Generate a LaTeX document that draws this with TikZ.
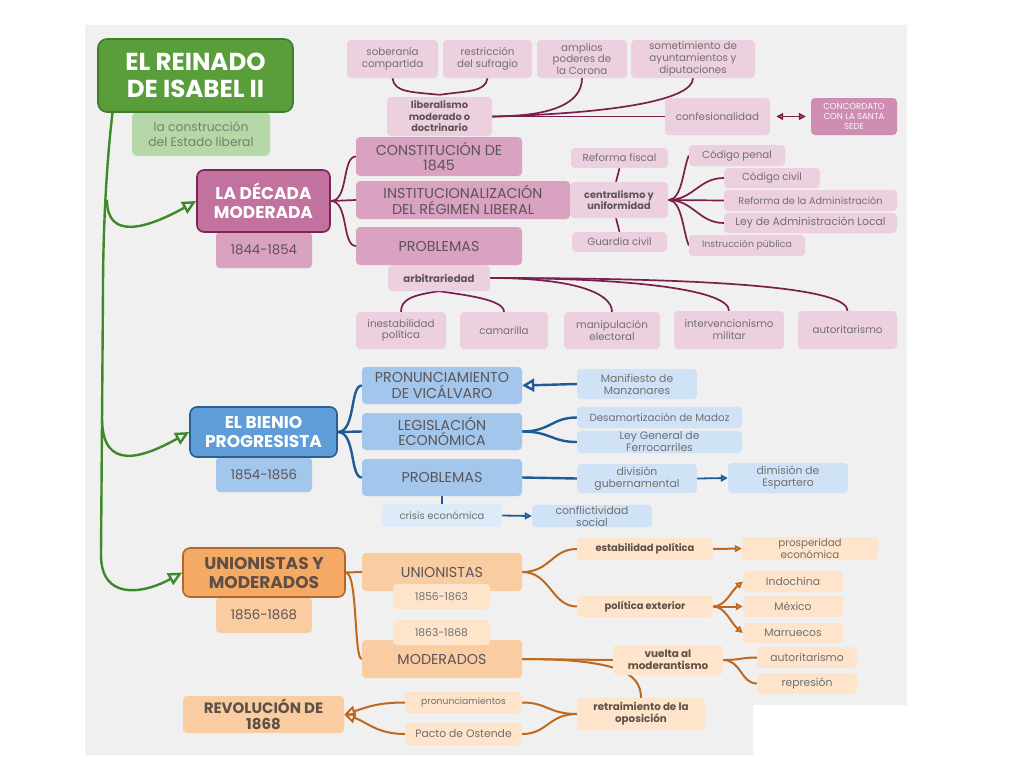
\documentclass[tikz,border=0pt]{standalone}
\usepackage{fontspec}
\setmainfont{Poppins}
\usetikzlibrary{arrows.meta}
\pgfdeclarelayer{back}\pgfdeclarelayer{lines}\pgfsetlayers{back,lines,main}
\definecolor{bg}{HTML}{F0F0F0}
\definecolor{gD}{HTML}{5A9E3C}\definecolor{gB}{HTML}{3F7D2A}\definecolor{gL}{HTML}{B6D7A8}\definecolor{gLine}{HTML}{3E8A2A}\definecolor{gT}{HTML}{6E846A}
\definecolor{pD}{HTML}{C2729E}\definecolor{pB}{HTML}{7B2652}\definecolor{pM}{HTML}{D9A2C0}\definecolor{pL}{HTML}{EDD0DF}\definecolor{pLine}{HTML}{7A1E4B}\definecolor{pC}{HTML}{D08DB3}
\definecolor{bD}{HTML}{5E9DD8}\definecolor{bB}{HTML}{2C5E92}\definecolor{bM}{HTML}{A3C7EC}\definecolor{bL}{HTML}{CFE2F6}\definecolor{bLL}{HTML}{DDEAF7}\definecolor{bLine}{HTML}{1F5A97}
\definecolor{oD}{HTML}{F4A964}\definecolor{oB}{HTML}{B0672A}\definecolor{oM}{HTML}{F9CCA2}\definecolor{oL}{HTML}{FDE4CB}\definecolor{oLine}{HTML}{C0691C}
\definecolor{tx}{HTML}{707070}\definecolor{txD}{HTML}{5C5458}\definecolor{txO}{HTML}{5E5046}
\newcommand\bx[7]{%
 \pgfmathsetmacro\bxw{#5-#3}\pgfmathsetmacro\bxh{#6-#4}%
 \pgfmathsetmacro\bxx{(#3+#5)/2}\pgfmathsetmacro\bxy{(#4+#6)/2}%
 \node[box,#1,minimum width=\bxw pt,minimum height=\bxh pt] (#2) at (\bxx,\bxy) {#7};}
\tikzset{
 box/.style={rounded corners=4pt, inner sep=1pt, align=center, text=tx, font=\fontsize{10.3}{11.8}\selectfont},
 bigf/.style={font=\bfseries\fontsize{17}{19}\selectfont},
 yr/.style={font=\fontsize{13.3}{15}\selectfont},
 gmain/.style={fill=gD, draw=gB, line width=1.6pt, text=white, rounded corners=9pt, font=\bfseries\fontsize{24.5}{27}\selectfont},
 gsub/.style={fill=gL, text=gT, rounded corners=5pt, font=\fontsize{12.3}{14.5}\selectfont},
 pmain/.style={fill=pD, draw=pB, line width=1.6pt, text=white, rounded corners=7pt, bigf},
 pmd/.style={fill=pM, text=txD, font=\fontsize{14.3}{15.5}\selectfont},
 pk/.style={fill=pL},
 pkb/.style={fill=pL, text=txD, font=\bfseries\fontsize{9.8}{11.5}\selectfont},
 pconc/.style={fill=pC, text=white!92!pM, font=\fontsize{8.6}{10}\selectfont},
 bmain/.style={fill=bD, draw=bB, line width=1.6pt, text=white, rounded corners=7pt, bigf},
 bmd/.style={fill=bM, text=txD, font=\fontsize{14.3}{15.5}\selectfont},
 blt/.style={fill=bL},
 bll/.style={fill=bLL},
 omain/.style={fill=oD, draw=oB, line width=1.6pt, text=txO, rounded corners=7pt, bigf},
 omd/.style={fill=oM, text=txD, font=\fontsize{14.3}{15.5}\selectfont},
 orev/.style={fill=oM, text=txO, font=\bfseries\fontsize{15}{15.5}\selectfont},
 olt/.style={fill=oL},
 olb/.style={fill=oL, text=txO, font=\bfseries\fontsize{9.9}{11.5}\selectfont},
 pl/.style={draw=pLine, line width=1.7pt},
 bln/.style={draw=bLine, line width=2.4pt},
 oln/.style={draw=oLine, line width=2pt},
 gln/.style={draw=gLine, line width=2.4pt},
 gar/.style={-{Triangle[open,length=14pt,width=13pt,line width=2.4pt]}},
 sar/.style={-{Triangle[open,length=7pt,width=7pt]}},
}
\begin{document}
\begin{tikzpicture}[x=1pt,y=-1pt]
\useasboundingbox (0,0) rectangle (1024,768);
\begin{pgfonlayer}{back}
\fill[white] (0,0) rectangle (1024,768);
\fill[bg] (85,25) -- (907,25) -- (907,705) -- (753,705) -- (753,755) -- (85,755) -- cycle;
\end{pgfonlayer}
% green
\bx{gsub}{sub}{132}{112}{270}{156}{la construcción\\del Estado liberal}
\bx{gmain}{title}{98}{39}{293}{112}{EL REINADO\\DE ISABEL II}
% purple
\bx{pmd,yr}{d1}{216}{232}{312}{268}{1844-1854}
\bx{pmain}{decada}{197}{170}{330}{232}{LA DÉCADA\\MODERADA}
\bx{pk}{sob}{347}{40}{438}{78}{soberanía\\compartida}
\bx{pk}{res}{443}{40}{532}{78}{restricción\\del sufragio}
\bx{pk}{amp}{537}{40}{627}{78}{amplios\\poderes de\\la Corona}
\bx{pk}{som}{631}{40}{755}{78}{sometimiento de\\ayuntamientos y\\diputaciones}
\bx{pkb}{lib}{387}{97}{492}{136}{liberalismo\\moderado o\\doctrinario}
\bx{pk}{conf}{665}{98}{770}{135}{confesionalidad}
\bx{pconc}{conc}{811}{98}{897}{135}{CONCORDATO\\CON LA SANTA\\SEDE}
\bx{pmd}{const}{356}{137}{522}{176}{CONSTITUCIÓN DE\\1845}
\bx{pmd}{inst}{356}{181}{570}{219}{INSTITUCIONALIZACIÓN\\DEL RÉGIMEN LIBERAL}
\bx{pmd}{prob}{356}{227}{522}{265}{PROBLEMAS}
\bx{pkb,font=\bfseries\fontsize{10.2}{11.5}\selectfont}{arb}{388}{265}{490}{291}{arbitrariedad}
\bx{pk}{rf}{571}{148}{668}{168}{Reforma fiscal}
\bx{pkb}{cen}{570}{182}{668}{218}{centralismo y\\uniformidad}
\bx{pk}{gc}{572}{232}{667}{252}{Guardia civil}
\bx{pk}{cp}{689}{145}{785}{166}{Código penal}
\bx{pk}{cc}{724}{168}{820}{188}{Código civil}
\bx{pk,font=\fontsize{9.7}{11}\selectfont}{ra}{724}{190}{897}{211}{Reforma de la Administración}
\bx{pk,font=\fontsize{10.8}{12}\selectfont}{la}{724}{213}{897}{233}{Ley de Administración Local}
\bx{pk,font=\fontsize{9.4}{11}\selectfont}{ip}{689}{235}{805}{256}{Instrucción pública}
\bx{pk}{ine}{356}{312}{446}{349}{inestabilidad\\política}
\bx{pk}{cam}{460}{312}{548}{349}{camarilla}
\bx{pk}{man}{564}{312}{660}{349}{manipulación\\electoral}
\bx{pk}{int}{674}{311}{784}{349}{intervencionismo\\militar}
\bx{pk}{aut}{798}{311}{897}{349}{autoritarismo}
% blue
\bx{bmd,yr}{b1}{216}{457}{312}{492}{1854-1856}
\bx{bmain}{bienio}{190}{407}{337}{457}{EL BIENIO\\PROGRESISTA}
\bx{bmd}{pron}{362}{367}{522}{404}{PRONUNCIAMIENTO\\DE VICÁLVARO}
\bx{bmd}{leg}{362}{413}{522}{450}{LEGISLACIÓN\\ECONÓMICA}
\bx{bmd}{bprob}{362}{459}{522}{496}{PROBLEMAS}
\bx{bll,font=\fontsize{10}{11}\selectfont}{cri}{382}{504}{502}{527}{crisis económica}
\bx{blt,font=\fontsize{10.8}{12}\selectfont}{mmz}{577}{369}{697}{399}{Manifiesto de\\Manzanares}
\bx{blt}{des}{577}{407}{742}{428}{Desamortización de Madoz}
\bx{blt,font=\fontsize{10.8}{12}\selectfont}{lgf}{577}{431}{742}{453}{Ley General de\\Ferrocarriles}
\bx{blt,font=\fontsize{10.8}{12}\selectfont}{div}{577}{464}{697}{493}{división\\gubernamental}
\bx{blt,font=\fontsize{10.8}{12}\selectfont}{dim}{728}{463}{848}{493}{dimisión de\\Espartero}
\bx{blt,font=\fontsize{10.8}{12}\selectfont}{cso}{532}{505}{652}{527}{conflictividad\\social}
% orange
\bx{omd,yr}{o1}{216}{597}{312}{633}{1856-1868}
\bx{omain}{union}{183}{548}{345}{597}{UNIONISTAS Y\\MODERADOS}
\bx{omd}{uni}{362}{553}{522}{591}{UNIONISTAS}
\bx{olt,font=\fontsize{10.7}{12}\selectfont}{u1}{393}{584}{490}{609}{1856-1863}
\bx{omd}{mod}{362}{640}{522}{678}{MODERADOS}
\bx{olt,font=\fontsize{10.7}{12}\selectfont}{u2}{393}{620}{490}{645}{1863-1868}
\bx{orev}{rev}{183}{696}{344}{733}{REVOLUCIÓN DE\\1868}
\bx{olt,font=\fontsize{9.2}{10}\selectfont}{prn}{405}{692}{522}{713}{pronunciamientos}
\bx{olt,font=\fontsize{10.8}{12}\selectfont}{pac}{405}{723}{522}{745}{Pacto de Ostende}
\bx{olb}{est}{577}{538}{713}{560}{estabilidad política}
\bx{olt}{pro}{742}{537}{878}{560}{prosperidad\\económica}
\bx{olb}{pex}{577}{596}{713}{617}{política exterior}
\bx{olt,font=\fontsize{10.8}{12}\selectfont}{ind}{743}{571}{843}{592}{Indochina}
\bx{olt,font=\fontsize{10.8}{12}\selectfont}{mex}{743}{596}{843}{617}{México}
\bx{olt,font=\fontsize{10.8}{12}\selectfont}{mar}{743}{623}{843}{643}{Marruecos}
\bx{olb,font=\bfseries\fontsize{10.4}{12}\selectfont}{vue}{613}{645}{723}{675}{vuelta al\\moderantismo}
\bx{olt,font=\fontsize{10.8}{12}\selectfont}{oaut}{757}{647}{857}{668}{autoritarismo}
\bx{olt,font=\fontsize{10.8}{12}\selectfont}{rep}{757}{673}{857}{694}{represión}
\bx{olb,font=\bfseries\fontsize{10.3}{12}\selectfont}{ret}{577}{698}{705}{730}{retraimiento de la\\oposición}
% connectors
\begin{pgfonlayer}{lines}
\coordinate (t1) at (107,200);
\coordinate (t2) at (102,418);
\draw[gln,gar] ([xshift=-83pt]title.south) .. controls +(-6,50) and +(0,-60) .. (103,290) -- (101,555) .. controls +(0,45) and +(-40,22) .. (union.west);
\draw[gln,gar] (t1) .. controls +(0,40) and +(-50,28) .. (decada.west);
\draw[gln,gar] (t2) .. controls +(0,55) and +(-45,25) .. (bienio.west);
% purple
\draw[pl] (decada.east) .. controls +(18,0) and +(-14,0) .. (const.west);
\draw[pl] (decada.east) -- (inst.west);
\draw[pl] (decada.east) .. controls +(18,0) and +(-14,0) .. (prob.west);
\draw[pl] (sob.south) .. controls +(2,14) and +(-30,-3) .. ([yshift=2pt]lib.north);
\draw[pl] ([yshift=2pt]lib.north) .. controls +(28,-4) and +(-2,14) .. (res.south);
\draw[pl] (lib.east) .. controls +(60,0) and +(0,25) .. (amp.south);
\draw[pl] (lib.east) .. controls +(120,-3) and +(0,22) .. (som.south);
\draw[pl] (lib.east) -- (conf.west);
\draw[pl,{Triangle[open,length=7pt,width=7pt]}-{Triangle[open,length=7pt,width=7pt]}] ([xshift=6pt]conf.east) -- ([xshift=-5pt]conc.west);
\draw[pl] (rf.south) -- ([xshift=-3pt]cen.north);
\draw[pl] ([xshift=-3pt]cen.south) -- (gc.north);
\draw[pl] (cen.east) .. controls +(14,0) and +(-6,14) .. (cp.west);
\draw[pl] (cen.east) .. controls +(25,0) and +(-25,0) .. (cc.west);
\draw[pl] (cen.east) -- (ra.west);
\draw[pl] (cen.east) .. controls +(25,0) and +(-25,0) .. (la.west);
\draw[pl] (cen.east) .. controls +(14,0) and +(-6,-14) .. (ip.west);
\draw[pl] (ine.north) .. controls +(0,-12) and +(-28,4) .. (arb.south);
\draw[pl] (arb.south) .. controls +(28,4) and +(0,-12) .. (cam.north);
\draw[pl] (arb.east) .. controls +(80,0) and +(0,-20) .. (man.north);
\draw[pl] (arb.east) .. controls +(150,0) and +(0,-20) .. (int.north);
\draw[pl] (arb.east) .. controls +(260,0) and +(0,-20) .. (aut.north);
% blue
\draw[bln] (bienio.east) .. controls +(18,0) and +(-12,0) .. (pron.west);
\draw[bln] (bienio.east) -- (leg.west);
\draw[bln] (bienio.east) .. controls +(18,0) and +(-12,0) .. (bprob.west);
\draw[bln,-{Triangle[open,length=12pt,width=13pt,line width=2.4pt]}] (mmz.west) -- (pron.east);
\draw[bln] (leg.east) .. controls +(28,0) and +(-25,0) .. (des.west);
\draw[bln] (leg.east) .. controls +(28,0) and +(-25,0) .. (lgf.west);
\draw[bln] (bprob.east) -- (div.west);
\draw[bln,line width=1.8pt,sar] (div.east) -- (dim.west);
\draw[bln] (bprob.south) -- (cri.north);
\draw[bln,line width=1.8pt,sar] (cri.east) -- (cso.west);
% orange
\draw[oln] (union.east) -- (uni.west);
\draw[oln] (union.east) .. controls +(12,0) and +(-8,0) .. (mod.west);
\draw[oln] (uni.east) .. controls +(28,0) and +(-25,0) .. (est.west);
\draw[oln] (uni.east) .. controls +(28,0) and +(-25,0) .. (pex.west);
\draw[oln,sar] (est.east) -- (pro.west);
\draw[oln,sar] (pex.east) .. controls +(12,0) and +(-12,10) .. (ind.west);
\draw[oln,sar] (pex.east) -- (mex.west);
\draw[oln,sar] (pex.east) .. controls +(12,0) and +(-12,-10) .. (mar.west);
\draw[oln] (mod.east) -- (vue.west);
\draw[oln] (mod.east) .. controls +(95,0) and +(0,-25) .. (ret.north);
\draw[oln] (vue.east) .. controls +(18,0) and +(-16,0) .. (oaut.west);
\draw[oln] (vue.east) .. controls +(18,0) and +(-16,0) .. (rep.west);
\draw[oln] (ret.west) .. controls +(-28,0) and +(25,0) .. (prn.east);
\draw[oln] (ret.west) .. controls +(-28,0) and +(25,0) .. (pac.east);
\draw[oln,-{Triangle[open,length=11pt,width=11pt,line width=2pt]}] (prn.west) .. controls +(-28,0) and +(22,-7) .. (rev.east);
\draw[oln,-{Triangle[open,length=11pt,width=11pt,line width=2pt]}] (pac.west) .. controls +(-28,0) and +(22,7) .. (rev.east);
\end{pgfonlayer}
\end{tikzpicture}
\end{document}
